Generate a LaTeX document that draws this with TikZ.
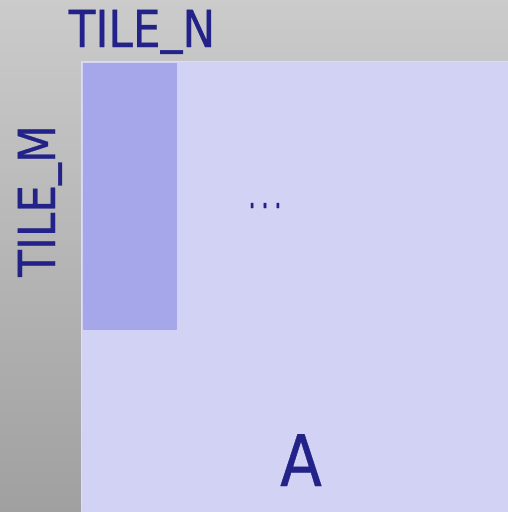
\documentclass[tikz,border=0pt]{standalone}
\usepackage{fontspec}
\setmainfont{DejaVu Sans}
\newfontfamily\lblfont[FakeBold=0.6]{DejaVu Sans}
\definecolor{ink}{RGB}{34,34,136}
\definecolor{bgtop}{RGB}{203,203,203}
\definecolor{bgbot}{RGB}{160,160,160}
\definecolor{tilebg}{RGB}{210,210,244}
\definecolor{tilefg}{RGB}{166,166,234}
\definecolor{tileedge}{RGB}{222,222,242}
\tikzset{
  lbl/.style={text=ink, inner sep=0pt, anchor=base},
}
\newcommand{\cnd}[1]{\scalebox{0.86}[1]{#1}}
\newcommand{\usc}{\raisebox{0.1em}{\_}}
\newcommand{\dt}{\scalebox{0.6}[1]{.}}
\begin{document}
\begin{tikzpicture}[x=1pt,y=-1pt]
\useasboundingbox (0,0) rectangle (508,512);
\shade[top color=bgtop, bottom color=bgbot] (0,0) rectangle (508,512);
\fill[tileedge] (80.5,60.5) rectangle (508,512);
\fill[tilebg] (82,62) rectangle (508,512);
\fill[tilefg] (82.5,62.5) rectangle (177,330);
\node[lbl, font=\lblfont\fontsize{51}{51}\selectfont] (tn) at (142,47) {\cnd{TILE\usc N}};
\node[lbl, rotate=90, font=\lblfont\fontsize{51}{51}\selectfont] (tm) at (55,201) {\cnd{TILE\usc M}};
\node[lbl, font=\lblfont\fontsize{40}{40}\selectfont] (dots) at (265,208) {\dt\hspace{0.13em}\dt\hspace{0.13em}\dt};
\node[lbl, font=\lblfont\fontsize{71}{71}\selectfont] (a) at (301,486) {\cnd{A}};
\end{tikzpicture}
\end{document}
